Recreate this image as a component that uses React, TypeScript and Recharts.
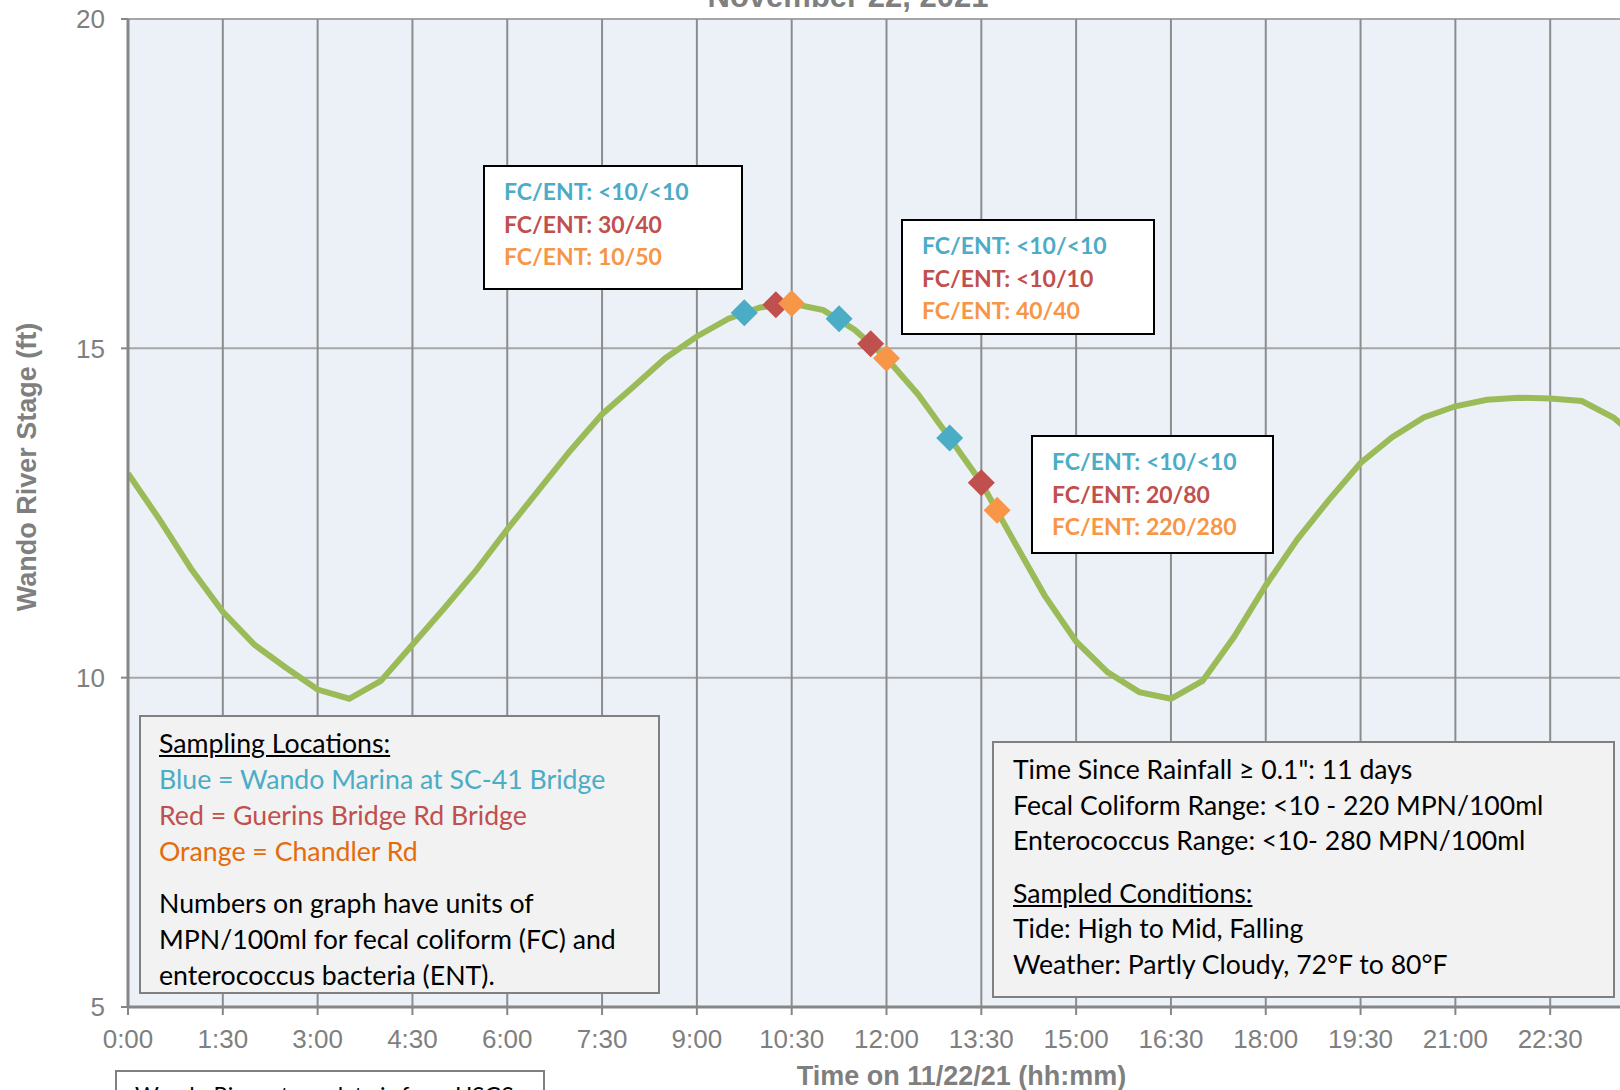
import React from 'react';
import { ComposedChart, Line, XAxis, YAxis, CartesianGrid } from 'recharts';

// Wando River stage, read every 30 min
const stageHours = [
  0, 0.5, 1, 1.5, 2, 2.5, 3, 3.5, 4, 4.5, 5, 5.5, 6, 6.5, 7, 7.5, 8, 8.5, 9, 9.5, 10, 10.5, 11, 11.5,
  12, 12.5, 13, 13.5, 14, 14.5, 15, 15.5, 16, 16.5, 17, 17.5, 18, 18.5, 19, 19.5, 20, 20.5, 21, 21.5,
  22, 22.5, 23, 23.5, 24,
];
const stageFt = [
  13.1, 12.4, 11.65, 11.0, 10.5, 10.15, 9.82, 9.68, 9.95, 10.5, 11.05, 11.62, 12.25, 12.85, 13.45, 14.0,
  14.42, 14.85, 15.18, 15.45, 15.62, 15.68, 15.58, 15.28, 14.85, 14.3, 13.64, 12.96, 12.1, 11.25, 10.55,
  10.08, 9.78, 9.68, 9.95, 10.62, 11.4, 12.1, 12.7, 13.26, 13.65, 13.95, 14.12, 14.22, 14.25, 14.24, 14.2,
  13.95, 13.55,
];

// sample times (hours) and stage at sampling
const blueHours = [9.75, 11.25, 13];
const blueFt = [15.54, 15.45, 13.64];
const redHours = [10.25, 11.75, 13.5];
const redFt = [15.66, 15.07, 12.96];
const orangeHours = [10.5, 12, 13.75];
const orangeFt = [15.68, 14.85, 12.54];

const xTicks = [0, 1.5, 3, 4.5, 6, 7.5, 9, 10.5, 12, 13.5, 15, 16.5, 18, 19.5, 21, 22.5];
const yTicks = [5, 10, 15, 20];

const boxBlue = ['<10/<10', '<10/<10', '<10/<10'];
const boxRed = ['30/40', '<10/10', '20/80'];
const boxOrange = ['10/50', '40/40', '220/280'];

const BLUE = '#4BACC6';
const RED = '#C0504D';
const ORANGE = '#F79646';
const GRAY = '#7f7f7f';
const ARIAL = '"Liberation Sans", Arial, sans-serif';
const CALIBRI = 'Lato, "Open Sans", sans-serif';

const rows = (hs: number[], vs: number[]) => hs.map((h, i) => ({ h, v: vs[i] }));

const fmtTime = (h: number) => {
  const hh = Math.floor(h);
  const mm = Math.round((h - hh) * 60);
  return `${hh}:${mm < 10 ? '0' + mm : mm}`;
};

const diamond = (color: string) => (props: any) => {
  const { cx, cy, index } = props;
  if (cx == null || cy == null) return <g key={index} />;
  const r = 13.5;
  return (
    <polygon
      key={index}
      points={`${cx},${cy - r} ${cx + r},${cy} ${cx},${cy + r} ${cx - r},${cy}`}
      fill={color}
    />
  );
};

const boxPos = [
  { left: 483, top: 165, width: 260, height: 125 },
  { left: 901, top: 219, width: 254, height: 116 },
  { left: 1031, top: 435, width: 243, height: 119 },
];

const App: React.FC = () => {
  return (
    <div style={{ position: 'fixed', left: 0, top: 0, width: 1620, height: 1090, overflow: 'hidden', background: '#fff' }}>
      <ComposedChart width={1700} height={1090} margin={{ top: 19, right: 55, bottom: 0, left: 0 }}>
        <CartesianGrid vertical={false} stroke="#a6a6a6" strokeWidth={2} fill="#ECF1F8" fillOpacity={1} />
        <CartesianGrid horizontal={false} stroke="#8c8c8c" strokeWidth={2} />
        <XAxis
          dataKey="h"
          type="number"
          domain={[0, 24]}
          ticks={xTicks}
          interval={0}
          allowDataOverflow
          tickFormatter={fmtTime}
          height={83}
          tickSize={8}
          tickMargin={15}
          axisLine={{ stroke: '#868686', strokeWidth: 3 }}
          tickLine={{ stroke: '#868686', strokeWidth: 2 }}
          tick={{ fill: GRAY, fontSize: 26, fontFamily: ARIAL }}
          label={{
            value: 'Time on 11/22/21 (hh:mm)',
            position: 'center',
            dx: 75,
            dy: 27,
            fill: GRAY,
            fontSize: 27,
            fontWeight: 'bold',
            fontFamily: ARIAL,
          }}
        />
        <YAxis
          dataKey="v"
          type="number"
          domain={[5, 20]}
          ticks={yTicks}
          interval={0}
          width={128}
          tickSize={7}
          tickMargin={16}
          axisLine={{ stroke: '#868686', strokeWidth: 3 }}
          tickLine={{ stroke: '#868686', strokeWidth: 2 }}
          tick={{ fill: GRAY, fontSize: 26, fontFamily: ARIAL }}
          label={{
            value: 'Wando River Stage (ft)',
            position: 'center',
            angle: -90,
            dx: -38,
            dy: -46,
            fill: GRAY,
            fontSize: 27,
            fontWeight: 'bold',
            fontFamily: ARIAL,
          }}
        />
        <Line
          data={rows(stageHours, stageFt)}
          dataKey="v"
          type="linear"
          stroke="#9BBB59"
          strokeWidth={6}
          dot={false}
          activeDot={false}
          isAnimationActive={false}
        />
        <Line data={rows(blueHours, blueFt)} dataKey="v" stroke="none" dot={diamond(BLUE)} activeDot={false} isAnimationActive={false} />
        <Line data={rows(redHours, redFt)} dataKey="v" stroke="none" dot={diamond(RED)} activeDot={false} isAnimationActive={false} />
        <Line data={rows(orangeHours, orangeFt)} dataKey="v" stroke="none" dot={diamond(ORANGE)} activeDot={false} isAnimationActive={false} />
      </ComposedChart>

      {/* chart title, mostly cut off at the top */}
      <svg width={1620} height={40} style={{ position: 'absolute', left: 0, top: 0 }}>
        <text x={848} y={7} textAnchor="middle" fill={GRAY} fontSize={31} fontWeight="bold" fontFamily={ARIAL}>
          November 22, 2021
        </text>
      </svg>

      {/* result callouts */}
      {boxPos.map((p, i) => (
        <div
          key={i}
          style={{
            position: 'absolute', left: p.left, top: p.top, width: p.width, height: p.height,
            boxSizing: 'border-box', background: '#fff', border: '2px solid #000',
            padding: '8px 0 0 19px', fontFamily: CALIBRI, fontWeight: 'bold', fontSize: 23, lineHeight: '32.5px',
          }}
        >
          <div style={{ color: BLUE }}>FC/ENT: {boxBlue[i]}</div>
          <div style={{ color: RED }}>FC/ENT: {boxRed[i]}</div>
          <div style={{ color: ORANGE }}>FC/ENT: {boxOrange[i]}</div>
        </div>
      ))}

      {/* sampling locations */}
      <div
        style={{
          position: 'absolute', left: 139, top: 715, width: 521, height: 279, boxSizing: 'border-box',
          background: '#F2F2F2', border: '2px solid #808080', padding: '8px 0 0 18px',
          fontFamily: CALIBRI, fontSize: 26.7, lineHeight: '36px', color: '#000',
        }}
      >
        <div style={{ textDecoration: 'underline' }}>Sampling Locations:</div>
        <div style={{ color: BLUE }}>Blue = Wando Marina at SC-41 Bridge</div>
        <div style={{ color: RED }}>Red = Guerins Bridge Rd Bridge</div>
        <div style={{ color: '#E46C0A' }}>Orange = Chandler Rd</div>
        <div style={{ marginTop: 16 }}>Numbers on graph have units of</div>
        <div>MPN/100ml for fecal coliform (FC) and</div>
        <div>enterococcus bacteria (ENT).</div>
      </div>

      {/* conditions */}
      <div
        style={{
          position: 'absolute', left: 992, top: 741, width: 623, height: 257, boxSizing: 'border-box',
          background: '#F2F2F2', border: '2px solid #808080', padding: '9px 0 0 19px',
          fontFamily: CALIBRI, fontSize: 26.6, lineHeight: '35.6px', color: '#000',
        }}
      >
        <div>Time Since Rainfall ≥ 0.1": 11 days</div>
        <div>Fecal Coliform Range: &lt;10 - 220 MPN/100ml</div>
        <div>Enterococcus Range: &lt;10- 280 MPN/100ml</div>
        <div style={{ marginTop: 17, textDecoration: 'underline' }}>Sampled Conditions:</div>
        <div>Tide: High to Mid, Falling</div>
        <div>Weather: Partly Cloudy, 72°F to 80°F</div>
      </div>

      {/* data source note, cut off at the bottom */}
      <div
        style={{
          position: 'absolute', left: 115, top: 1070, width: 430, height: 80, boxSizing: 'border-box',
          background: '#fff', border: '2px solid #808080', padding: '9px 0 0 18px',
          fontFamily: CALIBRI, fontSize: 23, lineHeight: '28px', color: '#000',
        }}
      >
        Wando River stage data is from USGS Station
      </div>
    </div>
  );
};

export default App;
